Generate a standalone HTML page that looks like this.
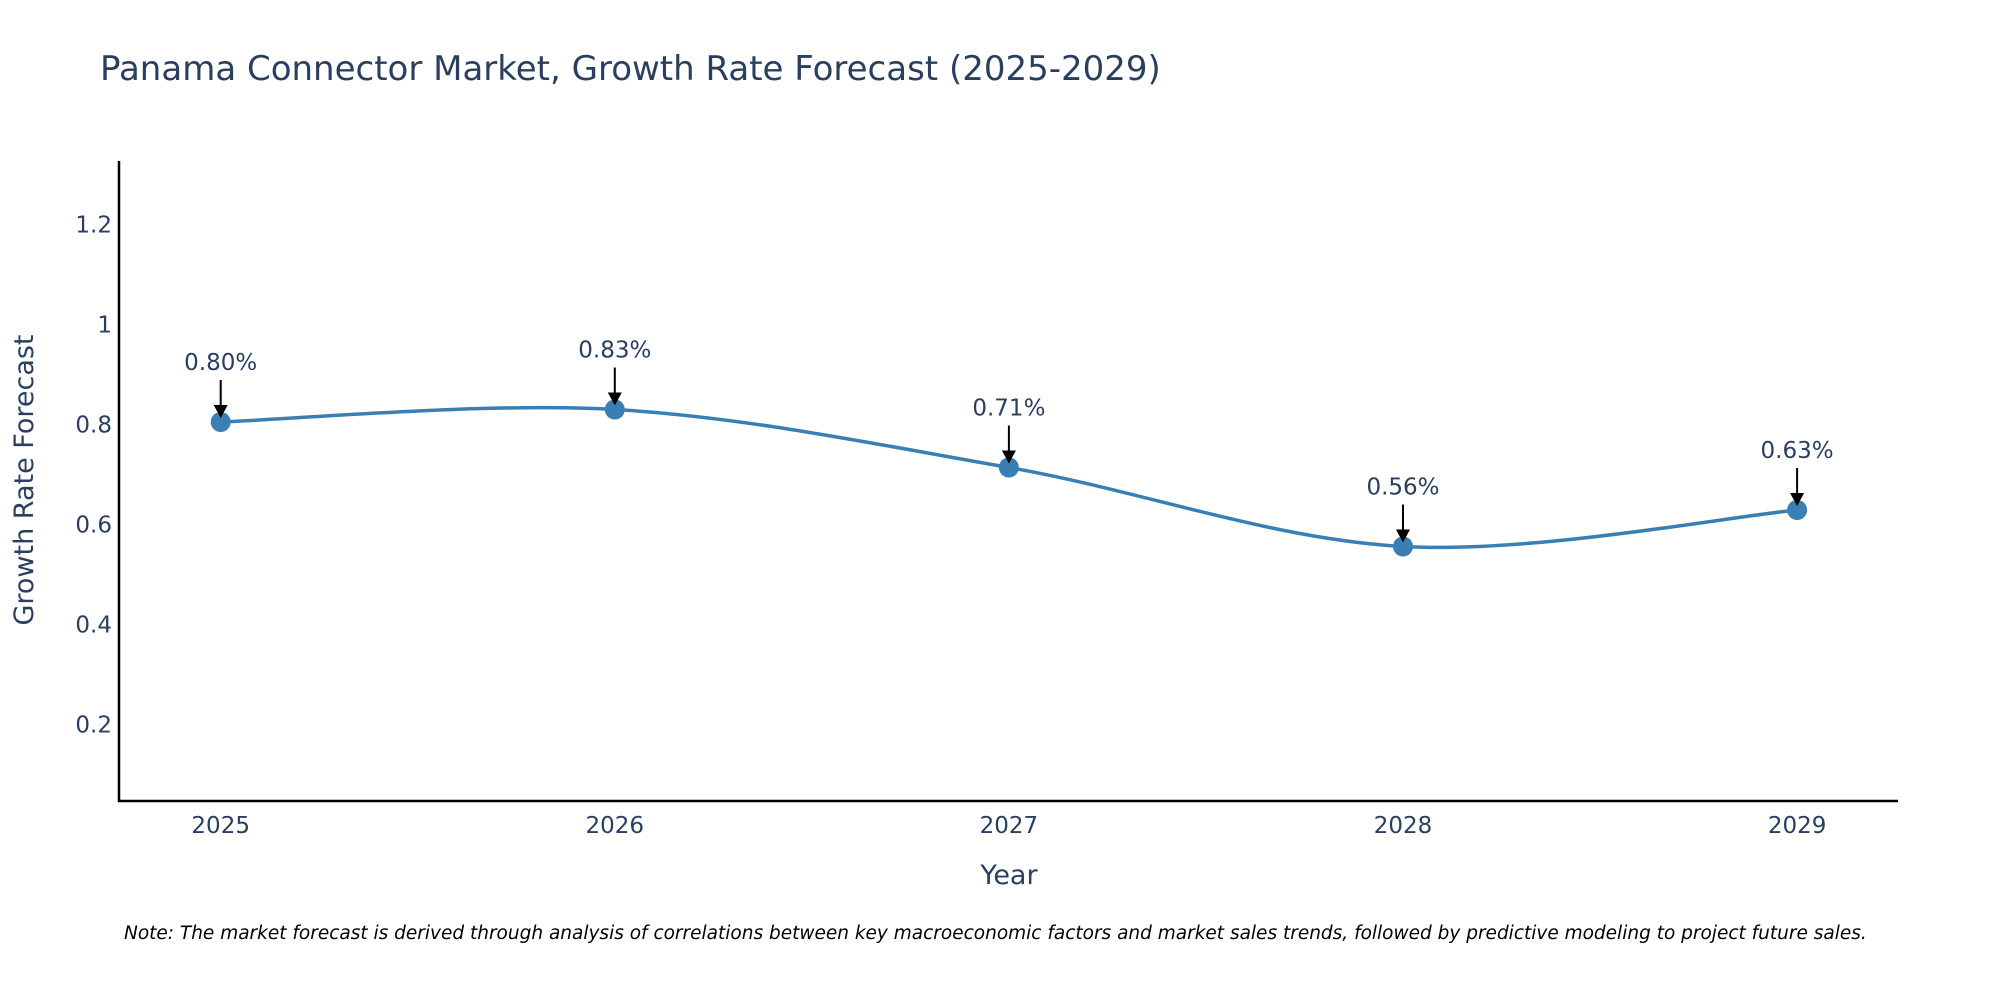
<!DOCTYPE html>
<html><head><meta charset="utf-8"><style>
body{margin:0;background:#fff;}
svg{display:block;font-family:"DejaVu Sans","Liberation Sans",sans-serif;}
</style></head><body>
<svg id="chart" width="2000" height="1000" viewBox="0 0 2000 1000">
<text x="100" y="80" font-size="34" fill="#2a3f5f">Panama Connector Market, Growth Rate Forecast (2025-2029)</text>
<g id="yticks"></g>
<g id="xticks"></g>
<line x1="119" y1="161" x2="119" y2="802" stroke="#000" stroke-width="2.5"/>
<line x1="118" y1="801" x2="1898" y2="801" stroke="#000" stroke-width="2.5"/>
<path id="line" fill="none" stroke="#3a7fb3" stroke-width="3.5"/>
<g id="marks"></g>
<g id="annots"></g>
<text x="1009" y="884" font-size="27" fill="#2a3f5f" text-anchor="middle">Year</text>
<text transform="translate(33,480) rotate(-90)" font-size="27" fill="#2a3f5f" text-anchor="middle">Growth Rate Forecast</text>
<text x="124" y="939" font-size="18.5" font-style="italic" fill="#000">Note: The market forecast is derived through analysis of correlations between key macroeconomic factors and market sales trends, followed by predictive modeling to project future sales.</text>
</svg>
<script>
const years=[2025,2026,2027,2028,2029];
const values=[0.805,0.83,0.714,0.556,0.629];
const labels=["0.80%","0.83%","0.71%","0.56%","0.63%"];
const yTicks=[0.2,0.4,0.6,0.8,1,1.2];
const NS="http://www.w3.org/2000/svg";
function xs(y){return 220.7+(y-2025)*394.1;}
function ys(v){return 724.5-(v-0.2)*500;}
function mk(t,a,p){const e=document.createElementNS(NS,t);for(const k in a)e.setAttribute(k,a[k]);p.appendChild(e);return e;}
const yt=document.getElementById('yticks');
yTicks.forEach(v=>{const t=mk('text',{x:112,y:ys(v)+8,'font-size':23,fill:'#2a3f5f','text-anchor':'end'},yt);t.textContent=String(v);

});
const xt=document.getElementById('xticks');
years.forEach(y=>{const t=mk('text',{x:xs(y),y:833,'font-size':23,fill:'#2a3f5f','text-anchor':'middle'},xt);t.textContent=String(y);

});
const P=years.map((y,i)=>[xs(y),ys(values[i])]);
let d='M'+P[0][0]+','+P[0][1];
for(let i=0;i<P.length-1;i++){const p0=P[Math.max(0,i-1)],p1=P[i],p2=P[i+1],p3=P[Math.min(P.length-1,i+2)];
const c1=[p1[0]+(p2[0]-p0[0])/6,p1[1]+(p2[1]-p0[1])/6],c2=[p2[0]-(p3[0]-p1[0])/6,p2[1]-(p3[1]-p1[1])/6];
d+=` C${c1[0]},${c1[1]} ${c2[0]},${c2[1]} ${p2[0]},${p2[1]}`;}
document.getElementById('line').setAttribute('d',d);
const mg=document.getElementById('marks'),ag=document.getElementById('annots');
P.forEach((p,i)=>{const c=mk('circle',{cx:p[0],cy:p[1],r:10,fill:'#3a7fb3'},mg);


const g=mk('g',{},ag);


mk('line',{x1:p[0],y1:p[1]-42,x2:p[0],y2:p[1]-14,stroke:'#000','stroke-width':2},g);
mk('polygon',{points:`${p[0]-7},${p[1]-17} ${p[0]+7},${p[1]-17} ${p[0]},${p[1]-4}`,fill:'#000'},g);
const t=mk('text',{x:p[0],y:p[1]-52,'font-size':23,fill:'#2a3f5f','text-anchor':'middle'},g);t.textContent=labels[i];});
</script>
</body></html>
